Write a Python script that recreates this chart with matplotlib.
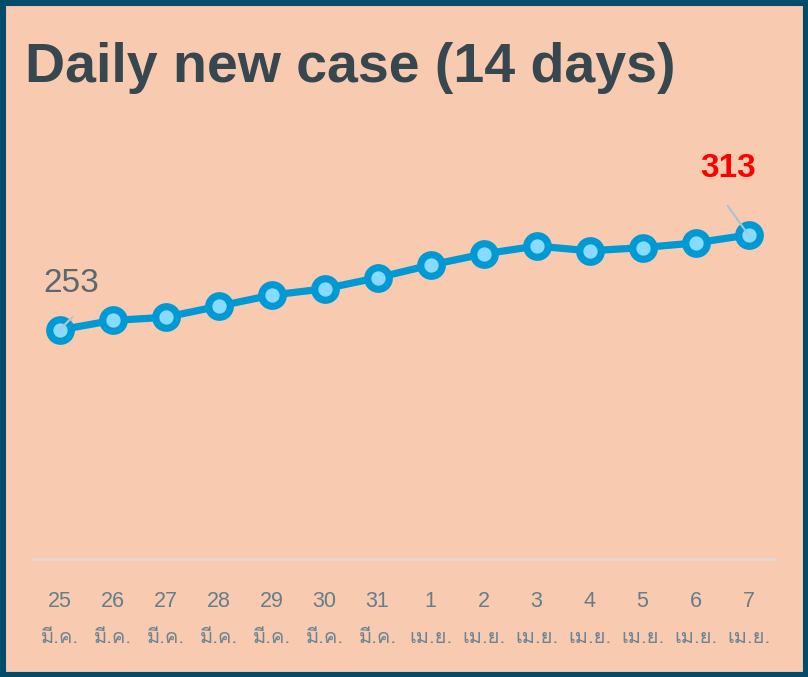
import matplotlib
matplotlib.use('Agg')
from matplotlib import pyplot as plt
from matplotlib import font_manager
from matplotlib.ft2font import FT2Font
from matplotlib.patches import Rectangle

days = ['25', '26', '27', '28', '29', '30', '31', '1', '2', '3', '4', '5', '6', '7']
months = ['มี.ค.'] * 7 + ['เม.ย.'] * 7
new_cases = [253, 259, 261, 268, 275, 279, 286, 294, 301, 306, 303, 305, 308, 313]


# find an installed font that has Thai glyphs
def find_thai_font():
    for f in font_manager.fontManager.ttflist:
        try:
            if 0x0E21 in FT2Font(f.fname).get_charmap():
                return f.name
        except Exception:
            pass
    return 'DejaVu Sans'


thai_font = find_thai_font()
latin = 'Liberation Sans'

bg = '#F8CBB1'
fig = plt.figure(figsize=(8.08, 6.77), dpi=100, facecolor=bg)
W, H = 808, 677

# dark frame round the card
fig.patches.append(Rectangle((0, 0), 1, 1, transform=fig.transFigure, fill=False,
                             edgecolor='#024B6A', linewidth=8, zorder=10))

ax = fig.add_axes([33 / W, (H - 559) / H, (775 - 33) / W, (559 - 140) / H])
ax.set_facecolor(bg)
x = list(range(len(days)))
ax.plot(x, new_cases, color='#0099D3', linewidth=5.2, marker='o', markersize=15.5,
        markerfacecolor='#86DBFF', markeredgecolor='#0099D3', markeredgewidth=5.2,
        solid_capstyle='round', zorder=3)
ax.set_xlim(-0.5, 13.5)
ax.set_ylim(108.3, 373)

for s in ['top', 'right', 'left']:
    ax.spines[s].set_visible(False)
ax.spines['bottom'].set_color('#DEDEDE')
ax.spines['bottom'].set_linewidth(1.8)
ax.set_yticks([])
ax.set_xticks(x)
ax.set_xticklabels(days, fontsize=15.5, color='#637E8C', family=latin)
ax.tick_params(axis='x', length=0, pad=23)
for i, m in enumerate(months):
    ax.text(i, -0.188, m, transform=ax.get_xaxis_transform(), ha='center', va='center',
            fontsize=14.5, color='#6B8593', family=[thai_font, 'DejaVu Sans'])

# first and last value labels with leader lines
ax.annotate('', xy=(0, new_cases[0]), xytext=(9.4, 9.4), textcoords='offset points',
            arrowprops=dict(arrowstyle='-', color='#B8C4CC', lw=1.5, shrinkA=0, shrinkB=0), zorder=4)
ax.annotate(str(new_cases[0]), xy=(0, new_cases[0]), xytext=(8.6, 33.5), textcoords='offset points',
            ha='center', va='center', fontsize=24, color='#5A6872', family=latin)
ax.annotate('', xy=(13, new_cases[-1]), xytext=(-15, 21), textcoords='offset points',
            arrowprops=dict(arrowstyle='-', color='#A8C4D2', lw=1.5, shrinkA=0, shrinkB=0), zorder=4)
ax.annotate(str(new_cases[-1]), xy=(13, new_cases[-1]), xytext=(-14.4, 48), textcoords='offset points',
            ha='center', va='center', fontsize=24, color='#FF0000', fontweight='bold', family=latin)

fig.text(25 / W, 1 - 82 / H, 'Daily new case (14 days)', fontsize=40, fontweight='bold',
         color='#37474F', family=latin, va='baseline', ha='left')

fig.savefig('out.png', dpi=100, facecolor=bg)
